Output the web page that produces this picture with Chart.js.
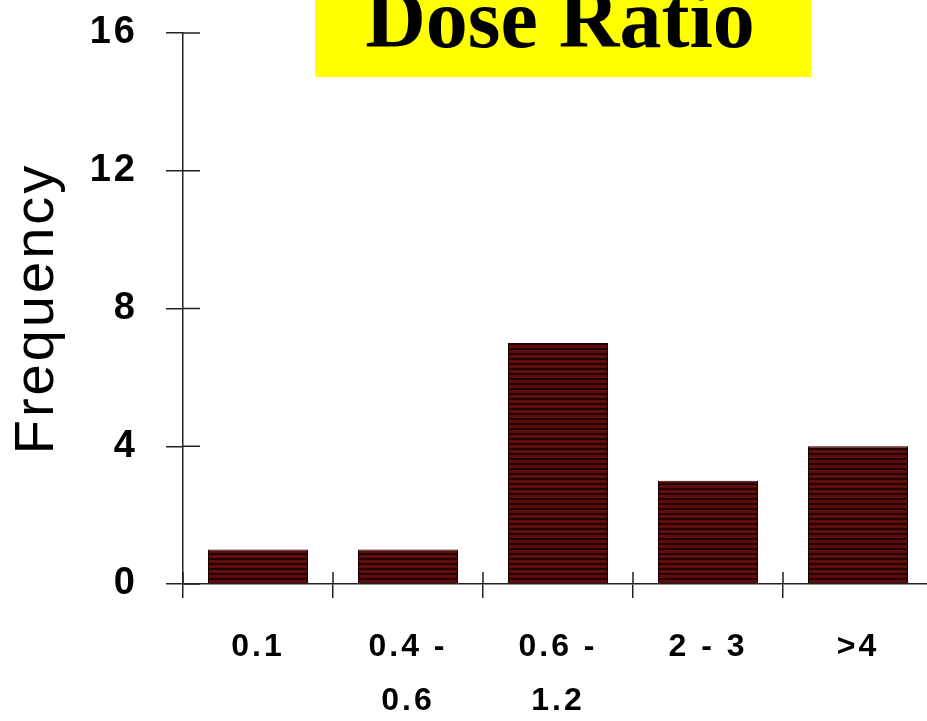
<!DOCTYPE html>
<html><head><meta charset="utf-8">
<script src="https://cdn.jsdelivr.net/npm/chart.js@4"></script>
<style>html,body{margin:0;padding:0;background:#fff;overflow:hidden;width:927px;height:721px}#wrap{width:940px;height:721px}</style>
</head><body><div id="wrap"><canvas id="c" width="940" height="721"></canvas></div>
<script>
const categories = [['0.1'], ['0.4 -', '0.6'], ['0.6 -', '1.2'], ['2 - 3'], ['>4']];
const frequency = [1, 1, 7, 3, 4];
const yTicks = [0, 4, 8, 12, 16];
const titleText = 'Dose Ratio';
const yTitle = 'Frequency';

const pc = document.createElement('canvas');
pc.width = 4; pc.height = 5;
const p = pc.getContext('2d');
p.fillStyle = '#5e0c0c'; p.fillRect(0, 0, 4, 3);
p.fillStyle = '#220202'; p.fillRect(0, 3, 4, 2);
const ctx0 = document.getElementById('c').getContext('2d');
const stripe = ctx0.createPattern(pc, 'repeat');

const spacing = {
  id: 'spacing',
  beforeDraw(chart) { chart.ctx.letterSpacing = '3px'; }
};
const extras = {
  id: 'extras',
  afterDraw(chart) {
    const c = chart.ctx, x = chart.scales.x, y = chart.scales.y;
    c.save();
    c.strokeStyle = '#222'; c.lineWidth = 1.5;
    c.beginPath();
    yTicks.forEach(v => { const py = y.getPixelForValue(v); c.moveTo(x.left, py); c.lineTo(x.left + 17, py); });
    for (let i = 0; i <= categories.length; i++) {
      const px = x.left + (x.right - x.left) * i / categories.length;
      c.moveTo(px, y.bottom); c.lineTo(px, y.bottom - 12);
    }
    c.stroke();
    c.letterSpacing = '0px';
    c.fillStyle = '#ffff00';
    c.fillRect(315, 0, 496, 77);
    c.fillStyle = '#000';
    c.font = 'bold 84px "Liberation Serif", "Times New Roman", serif';
    c.textAlign = 'center'; c.textBaseline = 'alphabetic';
    c.fillText(titleText, 560, 47);
    c.restore();
  }
};

new Chart(ctx0, {
  type: 'bar',
  data: { labels: categories, datasets: [{ data: frequency, backgroundColor: stripe, borderColor: '#1a0000', borderWidth: 1, barPercentage: 0.667, categoryPercentage: 1 }] },
  options: {
    responsive: false, animation: false,
    layout: { padding: { top: 33, right: 7, bottom: 0, left: 0 } },
    plugins: { legend: { display: false }, tooltip: { enabled: false }, title: { display: false } },
    scales: {
      x: {
        grid: { offset: true, drawOnChartArea: false, tickLength: 14, color: '#222', lineWidth: 1.5 },
        border: { color: '#222', width: 1.5 },
        ticks: { color: '#000', padding: 22, maxRotation: 0, autoSkip: false, font: { family: 'Arial, "Liberation Sans"', size: 32, weight: 'bold', lineHeight: 1.7 } },
        afterFit(s) { s.height = 137; s.paddingLeft = 0; s.paddingRight = 0; }
      },
      y: {
        min: 0, max: 16,
        afterBuildTicks(s) { s.ticks = yTicks.map(v => ({ value: v })); },
        grid: { drawOnChartArea: false, tickLength: 17, color: '#222', lineWidth: 1.5 },
        border: { color: '#222', width: 1.5 },
        ticks: { color: '#000', padding: 28, font: { family: 'Arial, "Liberation Sans"', size: 38, weight: 'bold' } },
        title: { display: true, text: yTitle, color: '#000', padding: 4, font: { family: 'Arial, "Liberation Sans"', size: 56, weight: 'normal', lineHeight: 1.2 } },
        afterFit(s) { s.width = 183; s.paddingTop = 0; s.paddingBottom = 0; }
      }
    }
  },
  plugins: [spacing, extras]
});
</script></body></html>
